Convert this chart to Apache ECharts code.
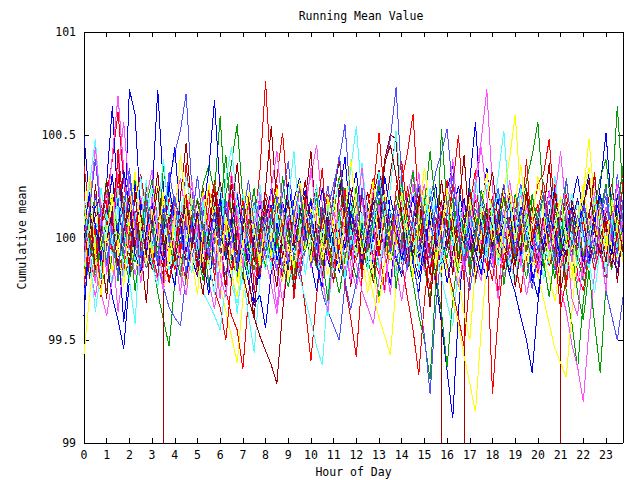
<!DOCTYPE html>
<html>
<head>
<meta charset="utf-8">
<script src="https://cdn.jsdelivr.net/npm/echarts@6/dist/echarts.min.js"></script>
<style>
html, body { margin: 0; background: #fff; }
#chart { width: 640px; height: 480px; }
#chart svg path { shape-rendering: crispEdges; }
</style>
</head>
<body>
<div id="chart"></div>
<script>
// sample times, every 15 minutes
var hours = [0,0.25,0.5,0.75,1,1.25,1.5,1.75,2,2.25,2.5,2.75,3,3.25,3.5,3.75,
	4,4.25,4.5,4.75,5,5.25,5.5,5.75,6,6.25,6.5,6.75,7,7.25,7.5,7.75,
	8,8.25,8.5,8.75,9,9.25,9.5,9.75,10,10.25,10.5,10.75,11,11.25,11.5,11.75,
	12,12.25,12.5,12.75,13,13.25,13.5,13.75,14,14.25,14.5,14.75,15,15.25,15.5,15.75,
	16,16.25,16.5,16.75,17,17.25,17.5,17.75,18,18.25,18.5,18.75,19,19.25,19.5,19.75,
	20,20.25,20.5,20.75,21,21.25,21.5,21.75,22,22.25,22.5,22.75,23,23.25,23.5,23.75];

var s1 = [100.35,100.12,99.94,100.08,100.21,100.38,100.61,100.27,100.05,99.88,100.02,100.15,99.93,99.81,100.04,100.19,
	100.07,99.92,99.78,99.97,100.11,100.24,100.03,99.86,99.95,99.74,99.62,99.55,99.36,99.71,100.06,100.32,
	100.76,100.28,99.98,99.83,100.01,100.14,99.87,99.66,99.40,99.72,99.96,100.09,100.18,99.99,99.77,99.61,
	99.42,99.80,100.05,100.22,100.51,100.19,99.94,100.06,100.27,100.41,100.60,100.13,99.89,99.75,99.98,100.10,
	100.02,100.25,100.50,100.08,99.84,99.97,100.16,99.91,99.79,100.03,100.20,100.04,99.88,99.73,99.95,100.12,
	100.26,100.31,100.48,100.09,99.86,99.99,100.14,99.82,99.74,99.93,100.07,100.21,100.03,99.85,100.10,100.24];
var s2 = [99.82,100.05,100.21,99.96,99.88,100.09,99.79,99.94,100.16,100.28,100.04,99.85,99.91,99.73,99.60,99.47,
	99.78,100.02,100.13,99.97,100.08,100.26,100.35,100.22,100.59,100.14,99.90,99.81,100.00,100.17,99.95,99.84,
	99.98,100.11,100.23,100.06,99.87,99.76,99.93,100.08,100.19,100.03,99.86,99.97,100.12,100.30,100.15,99.92,
	99.80,99.96,100.07,99.89,99.71,99.88,100.04,100.20,100.09,99.93,99.78,99.62,99.50,99.31,99.78,100.53,
	100.14,99.95,99.83,100.06,100.24,100.11,99.90,100.02,100.17,99.98,99.86,100.04,100.21,100.09,100.28,100.40,
	100.56,100.18,99.94,99.80,99.99,99.74,99.58,99.36,99.69,99.92,100.08,100.19,99.97,99.84,100.05,100.16];
var s3 = [100.49,100.18,99.90,100.06,100.27,100.64,100.15,99.98,100.72,100.60,100.11,99.93,100.20,100.72,100.24,99.89,
	99.76,100.01,100.17,100.05,99.84,100.12,100.33,100.67,100.22,99.91,99.79,100.03,100.15,99.94,99.68,99.86,
	100.07,100.24,100.02,99.81,99.95,100.18,100.29,100.06,99.88,99.74,99.97,100.13,100.01,99.83,99.96,100.19,
	100.32,100.08,99.85,100.00,100.16,99.92,99.77,100.03,100.22,100.10,99.87,99.73,99.96,100.14,99.80,99.58,
	99.35,99.12,99.64,99.99,100.28,100.56,100.13,99.90,100.05,100.19,99.96,99.82,99.99,100.15,100.02,99.78,
	99.91,100.08,100.23,100.04,99.86,100.00,100.17,100.30,100.11,99.89,100.06,100.25,100.51,100.14,99.93,100.08];
var s4 = [100.08,99.86,99.71,99.90,100.12,100.40,100.69,100.33,99.97,99.82,99.95,100.11,100.03,99.88,99.74,99.92,
	100.15,100.06,99.91,100.04,100.18,99.97,99.79,99.65,99.88,100.07,100.21,100.01,99.85,99.96,100.13,100.05,
	99.90,99.77,99.63,99.84,100.02,100.14,99.98,100.19,100.30,100.45,100.16,99.94,99.83,100.00,100.09,99.87,
	99.75,99.91,100.06,100.23,100.11,99.95,100.04,99.86,99.69,99.88,100.02,100.14,100.26,100.07,99.93,100.10,
	99.98,99.84,100.00,100.15,100.06,100.29,100.47,100.72,100.24,99.96,99.81,99.92,100.07,99.90,99.72,99.86,
	100.03,100.19,99.97,99.85,100.02,100.13,99.94,99.78,99.91,100.10,100.27,100.05,99.88,99.99,100.16,100.02];
var s5 = [100.02,100.26,100.48,100.11,99.89,99.78,99.96,100.08,100.17,99.99,99.86,100.05,100.13,99.95,100.09,100.22,
	100.04,99.87,99.96,100.10,99.92,99.80,100.01,100.18,100.06,99.90,99.77,99.68,99.81,99.62,99.44,99.79,
	100.00,100.12,99.94,100.07,100.20,100.03,99.88,99.97,100.11,99.96,99.83,100.02,100.16,100.27,100.12,100.33,
	100.54,100.19,99.95,99.86,100.04,100.14,99.99,99.82,99.93,100.08,100.21,100.03,99.90,100.06,100.17,99.98,
	99.84,99.95,100.09,100.01,99.87,100.03,100.15,100.26,100.11,100.30,100.52,100.14,99.97,99.85,100.02,100.12,
	99.96,99.80,99.91,100.08,100.18,100.02,99.89,100.05,100.14,99.97,99.83,99.94,100.09,100.20,100.04,99.90];
// this run has dropouts (reading 0) at 3.5, 15.75, 16.75 and 21 h
var s6 = [99.95,100.10,100.04,99.88,99.97,100.14,100.25,100.09,99.91,100.03,100.18,100.06,99.93,100.02,0,100.11,
	100.20,100.05,99.89,99.96,100.08,99.94,100.01,100.16,100.27,100.12,99.98,99.86,100.00,100.09,99.93,100.04,
	100.19,100.07,99.90,99.81,99.95,100.10,100.23,100.06,99.92,100.04,100.15,99.99,99.87,100.01,100.13,100.24,
	100.08,99.96,100.05,100.20,100.33,100.14,99.97,100.10,99.94,99.85,100.02,100.16,100.07,99.92,100.03,0,
	100.12,100.01,99.88,0,100.06,100.18,100.04,99.91,100.00,100.12,99.95,99.84,99.98,100.09,100.21,100.03,
	99.90,100.05,99.96,100.11,0,100.08,99.93,100.02,100.15,100.04,99.89,99.99,100.12,100.26,100.07,99.94];
var s7 = [99.43,99.72,99.95,100.10,99.98,99.84,100.03,100.19,100.07,99.90,99.81,99.96,100.12,100.25,100.04,99.93,
	100.06,99.89,99.77,99.94,100.11,100.22,100.02,99.85,99.76,99.64,99.52,99.39,99.70,99.92,100.08,99.97,
	100.13,100.02,99.87,99.79,99.96,100.15,100.26,100.05,99.91,100.04,99.93,99.82,99.99,100.17,100.08,99.94,
	100.05,99.91,99.73,99.88,100.10,100.21,99.97,99.86,100.03,100.14,99.95,100.07,100.24,100.09,99.92,99.83,
	99.96,100.11,100.02,99.87,99.94,100.08,100.19,100.03,99.90,100.06,100.23,100.38,100.60,100.20,99.98,99.86,
	100.01,99.92,100.10,100.22,100.04,99.88,99.79,99.97,100.12,99.95,100.06,99.91,99.84,100.00,100.13,100.05];
var s8 = [99.89,100.06,99.93,99.80,99.95,100.10,100.02,100.17,100.30,100.08,99.92,100.04,99.86,99.98,100.15,100.27,
	100.41,100.52,100.70,100.24,99.97,99.85,100.03,100.09,99.94,99.82,99.97,100.12,100.05,99.91,100.06,100.20,
	100.08,99.93,99.84,100.00,100.11,99.98,99.86,99.94,100.07,100.19,100.03,100.14,100.26,100.38,100.55,100.17,
	99.96,99.88,100.05,100.13,100.22,100.35,100.48,100.73,100.29,100.02,99.90,99.71,99.52,99.24,99.66,99.94,
	100.08,99.97,100.12,100.03,99.89,99.78,99.95,100.09,100.16,100.04,99.91,100.02,100.13,100.26,100.07,99.94,
	99.85,99.99,100.11,100.02,99.90,99.81,99.96,100.07,100.18,100.06,99.93,100.04,100.15,100.03,99.87,99.98];
var s9 = [100.14,99.91,99.78,100.01,100.23,100.09,99.93,99.82,100.04,100.18,100.31,100.12,99.95,100.07,100.20,99.99,
	99.84,99.96,100.11,100.03,99.90,100.02,99.87,99.74,99.66,99.50,99.79,100.04,100.16,100.02,99.89,100.06,
	100.22,100.13,100.29,100.51,100.17,99.94,99.83,100.00,100.12,100.25,100.08,99.95,99.86,100.03,100.14,99.98,
	100.09,100.20,100.04,99.91,99.82,99.97,100.13,100.02,99.88,99.71,99.55,99.33,99.69,99.96,100.10,100.00,
	99.87,99.74,99.61,99.47,99.80,100.02,100.15,99.96,99.24,99.62,99.91,100.08,100.19,100.05,99.93,100.07,
	100.16,99.99,99.86,99.95,100.10,100.21,100.06,99.92,99.83,100.01,100.14,100.02,99.88,100.06,100.19,100.31];
var s10 = [99.97,100.13,100.02,99.86,99.74,99.92,100.07,100.20,100.01,99.88,100.05,100.16,100.28,100.09,99.94,100.03,
	99.90,100.08,100.19,100.06,99.93,99.79,99.95,100.12,100.04,100.21,100.36,100.55,100.18,99.96,99.84,100.02,
	99.93,100.10,100.00,99.87,99.76,99.91,100.06,100.17,99.98,99.85,99.94,100.08,99.96,100.11,100.24,100.05,
	99.93,100.07,99.89,99.78,99.95,100.09,99.98,100.14,100.26,100.06,99.91,100.02,100.13,99.97,99.82,99.64,
	99.37,99.70,99.92,100.06,99.95,99.86,100.03,100.14,100.01,99.89,100.08,100.20,100.05,99.92,99.80,99.98,
	100.09,100.19,100.03,99.88,99.97,100.12,99.94,99.73,99.60,99.84,99.58,99.34,99.77,100.18,100.64,100.21];
var s11 = [99.76,99.98,100.16,100.04,99.88,99.71,99.60,99.46,99.79,100.05,100.19,99.94,99.85,100.01,100.13,100.25,
	100.08,99.93,100.06,99.90,99.81,99.97,100.10,100.02,100.15,99.99,99.87,100.04,99.92,99.78,99.67,99.72,
	99.56,99.83,100.04,100.17,100.06,99.94,100.11,100.23,100.09,99.96,100.02,99.89,99.80,99.95,100.07,100.18,
	100.02,99.87,99.98,100.12,100.24,100.06,99.93,100.05,99.96,100.19,100.08,99.90,100.04,100.15,99.98,99.86,
	100.01,100.12,100.25,100.09,99.94,100.06,99.89,99.80,99.97,100.11,99.95,99.82,99.73,99.61,99.50,99.34,
	99.68,99.93,100.07,100.14,100.03,99.91,100.08,100.19,100.02,99.88,99.99,100.12,100.04,99.92,99.83,100.01];
var s12 = [100.21,99.97,99.84,99.73,99.62,99.80,99.96,100.09,99.94,100.07,100.20,100.04,99.91,99.79,99.95,100.08,
	100.17,100.29,100.10,99.96,100.05,100.16,99.99,99.88,100.02,99.93,100.09,100.22,100.06,99.90,99.81,99.97,
	100.10,99.98,99.85,99.69,99.88,100.02,99.91,100.05,100.18,100.06,99.93,100.01,100.13,99.97,99.84,99.95,
	99.87,99.74,99.66,99.58,99.80,100.00,100.11,99.96,100.07,100.20,100.33,100.12,99.94,99.85,100.03,100.15,
	100.06,99.92,100.04,100.17,100.02,99.88,99.79,99.97,100.10,100.01,99.87,99.96,100.08,100.22,100.05,99.91,
	99.82,99.95,100.06,99.89,99.75,99.64,99.48,99.37,99.20,99.55,99.83,100.04,100.15,100.03,99.92,100.08];
var s13 = [99.93,99.80,100.03,100.17,100.05,99.91,100.06,100.19,100.02,99.89,99.97,100.11,100.24,100.08,99.95,99.84,
	99.98,100.13,100.01,99.92,99.85,99.73,99.68,99.62,99.55,99.78,99.99,100.10,100.21,100.04,99.93,100.06,
	100.15,100.02,99.88,99.97,100.09,99.95,99.81,99.70,99.59,99.47,99.38,99.74,99.96,100.08,99.99,100.16,
	100.05,99.94,100.07,100.18,100.03,99.90,99.98,100.12,100.01,99.86,99.95,100.09,100.20,100.06,99.93,99.80,
	99.68,99.57,99.86,100.02,100.14,100.03,99.91,100.05,100.18,100.07,99.94,99.86,99.99,100.11,100.02,99.90,
	100.06,100.17,99.98,99.87,99.96,100.09,100.21,100.04,99.93,99.85,99.97,100.10,99.98,99.89,100.06,100.12];
var s14 = [100.06,99.92,100.11,100.23,100.09,99.95,99.87,100.02,100.14,100.04,99.90,99.99,100.10,99.96,99.85,100.01,
	100.12,100.05,99.93,100.07,100.18,100.02,99.89,99.98,100.08,99.94,100.03,99.91,99.82,99.70,99.61,99.52,
	99.45,99.38,99.29,99.64,99.90,100.04,100.15,100.01,99.93,100.06,99.97,100.10,100.02,99.89,100.00,100.13,
	99.98,100.09,100.22,100.06,99.94,100.12,100.31,100.50,100.20,100.03,99.92,100.05,99.97,100.10,100.01,99.88,
	99.95,100.07,99.99,100.11,100.04,99.92,100.06,100.16,100.03,99.90,99.98,100.10,100.01,99.93,100.05,100.15,
	100.04,99.91,100.02,99.94,100.07,100.17,100.05,99.95,100.02,100.12,100.03,99.90,99.97,100.09,100.00,99.93];
var s15 = [100.19,100.05,99.88,99.97,100.10,100.22,100.03,99.91,99.84,99.97,100.09,100.02,99.90,100.06,100.17,100.04,
	99.93,100.01,100.14,100.26,100.08,99.95,99.86,100.00,100.12,100.03,99.92,100.05,100.16,100.27,100.09,99.96,
	99.87,100.01,100.11,100.03,99.94,99.85,100.00,100.12,100.04,99.91,100.06,100.18,100.07,99.96,99.88,100.02,
	100.13,99.99,99.84,99.72,99.61,99.52,99.43,99.76,99.98,100.10,100.01,99.92,100.03,100.15,100.06,99.94,
	99.85,99.70,99.58,99.42,99.29,99.15,99.55,99.88,100.05,99.97,100.09,99.99,99.86,99.95,100.07,99.93,
	99.81,99.70,99.58,99.46,99.39,99.32,99.64,99.95,100.21,100.48,100.17,99.98,100.08,99.96,99.90,100.03];
var s16 = [99.72,99.90,100.07,99.95,100.08,100.20,100.04,99.92,100.01,100.13,99.96,99.85,99.98,99.87,99.76,99.66,
	99.61,99.57,99.82,100.00,100.12,100.03,99.91,100.06,100.18,100.07,99.95,100.04,99.92,100.05,100.17,100.09,
	99.96,99.86,100.01,100.14,100.02,99.91,99.80,99.94,100.07,99.89,99.73,99.64,99.57,99.50,99.77,100.00,
	100.11,100.03,99.93,100.06,100.19,100.08,99.96,99.88,100.00,100.12,100.04,99.93,100.07,100.18,100.32,100.41,
	100.53,100.22,99.99,99.87,100.02,100.14,100.06,99.94,99.85,100.00,100.11,100.03,99.92,100.07,100.19,100.05,
	99.94,100.06,99.97,99.84,99.96,100.09,100.02,99.89,99.81,99.93,100.08,99.97,99.74,99.62,99.50,99.71];
var s17 = [100.22,99.87,100.05,99.71,100.18,99.93,100.31,100.02,99.80,100.13,99.96,100.27,99.84,100.09,99.75,100.04,
	100.19,99.90,100.36,100.07,99.82,99.98,100.24,99.79,100.11,99.92,100.30,100.05,99.86,100.17,99.73,99.99,
	100.14,99.88,100.26,99.95,100.08,99.70,99.97,100.21,99.85,100.10,100.34,99.94,99.78,100.06,100.23,99.91,
	100.03,99.81,100.16,100.29,99.96,99.74,100.12,100.01,99.89,100.25,100.07,99.83,100.19,99.95,99.77,100.08,
	100.28,99.92,100.04,99.79,100.15,100.33,99.98,99.86,100.10,99.72,100.02,100.20,99.90,100.07,100.38,99.97,
	99.83,100.12,99.94,100.26,100.06,99.76,100.01,100.18,99.88,100.09,100.32,99.95,99.81,100.14,99.99,100.27];
var s18 = [99.91,100.14,99.79,100.06,100.29,99.96,99.83,100.10,100.02,99.74,99.97,100.21,100.08,99.89,100.35,100.12,
	99.94,99.81,100.05,100.17,99.88,100.03,99.76,99.99,100.13,100.40,100.09,99.92,99.80,100.07,100.24,99.98,
	99.85,100.11,99.95,100.30,100.04,99.78,100.16,99.93,100.06,100.22,99.90,99.69,100.01,100.14,99.87,100.09,
	100.25,99.97,99.84,100.05,100.18,99.92,100.08,99.75,99.98,100.12,100.32,100.03,99.86,99.70,99.94,100.11,
	100.02,100.19,99.91,100.07,99.82,99.99,100.23,100.10,99.88,100.04,99.77,99.96,100.15,100.06,99.93,100.20,
	100.08,99.85,100.01,100.17,99.94,100.29,100.05,99.90,99.79,100.03,99.92,100.13,100.26,99.98,100.09,100.35];
var s19 = [99.62,100.03,100.20,99.88,100.09,100.31,99.97,99.59,99.84,100.26,100.05,99.91,100.17,99.86,100.02,100.24,
	100.44,100.08,99.81,99.97,100.13,99.90,99.72,100.06,100.19,99.95,100.09,99.83,100.01,100.22,99.94,99.80,
	100.05,100.16,99.89,99.99,100.27,100.08,99.92,100.03,100.18,99.87,99.76,100.10,99.96,100.21,100.39,100.07,
	99.93,100.04,100.16,99.85,99.98,100.30,100.12,99.90,99.81,100.06,100.20,100.01,99.87,100.13,100.26,99.96,
	99.78,99.93,100.07,100.19,99.99,99.84,100.11,100.34,100.06,99.92,100.04,100.17,99.88,99.97,100.09,99.82,
	99.71,99.95,100.12,100.24,99.98,100.07,99.89,100.02,100.16,100.31,100.05,99.91,100.08,99.86,100.21,100.03];
var s20 = [100.15,99.93,99.78,100.09,100.22,99.96,99.64,99.87,100.11,100.01,99.86,100.19,100.33,100.05,99.90,99.99,
	100.12,99.84,99.72,99.95,100.07,100.20,99.91,100.03,99.82,99.71,99.98,100.14,99.93,99.80,100.06,100.18,
	100.04,99.89,99.66,99.92,100.10,99.97,100.25,100.08,99.85,100.00,99.79,99.94,100.13,100.06,99.90,99.81,
	100.02,100.19,99.95,100.08,99.86,99.73,99.97,100.11,99.92,100.04,100.26,99.99,99.83,100.07,99.94,100.16,
	100.05,99.88,99.76,99.93,100.09,100.21,99.96,100.10,99.87,100.02,100.14,99.90,99.78,99.95,100.12,100.03,
	99.89,100.06,100.23,99.97,99.84,100.01,99.70,99.62,99.91,100.08,99.95,100.17,100.04,99.86,99.98,100.11];
var s21 = [99.86,100.10,99.97,100.24,100.06,99.92,100.15,99.81,99.96,100.08,100.30,100.02,99.87,99.76,99.99,100.13,
	100.01,100.20,99.93,99.83,100.05,100.17,99.98,100.11,100.25,100.04,99.86,99.63,99.90,100.03,100.16,99.95,
	99.84,100.07,100.21,99.99,99.88,99.75,100.02,100.14,100.05,99.91,99.80,99.62,99.93,100.09,100.18,99.96,
	100.07,100.36,100.10,99.94,99.85,100.02,100.13,99.97,99.88,99.96,100.11,100.23,100.04,99.90,100.08,99.86,
	99.97,100.12,100.03,99.91,100.19,100.06,99.84,99.95,100.07,100.22,100.00,99.89,99.78,100.04,100.15,99.93,
	100.09,99.98,99.87,100.03,100.20,99.94,100.06,100.17,99.99,99.88,99.73,99.96,100.10,100.02,99.91,100.14];
var s22 = [100.08,99.80,100.26,99.96,99.70,100.12,100.38,100.04,99.86,100.22,99.94,99.68,100.10,100.32,100.00,99.78,
	99.92,100.20,100.46,100.14,99.88,99.72,100.04,100.28,99.98,99.76,100.12,100.36,100.06,99.82,99.60,100.02,
	100.24,100.54,100.16,99.90,100.08,99.74,99.94,100.18,100.42,100.04,99.80,100.10,99.86,100.26,100.08,99.76,
	99.96,100.22,100.04,99.78,100.12,100.38,100.50,100.48,100.10,99.84,99.98,100.20,99.92,99.66,100.00,100.28,
	100.06,99.82,100.14,100.40,100.02,99.80,99.94,100.16,100.32,100.08,99.84,100.06,99.76,99.94,100.24,100.04,
	99.86,100.12,100.36,100.00,99.74,99.90,100.18,100.06,99.82,100.10,100.30,100.02,99.88,100.14,99.78,100.04];
var s23 = [99.80,100.06,100.18,99.94,100.02,99.83,99.95,100.13,100.24,99.99,99.86,100.08,99.92,100.03,99.75,99.90,
	100.11,100.04,99.93,100.19,100.07,99.88,99.97,100.15,99.95,100.09,99.82,99.71,99.96,100.12,100.01,99.89,
	100.05,99.92,100.17,100.08,99.97,99.85,100.03,99.94,100.14,100.06,99.89,100.01,100.20,99.98,99.87,100.04,
	99.93,100.10,99.99,99.81,99.68,99.88,100.07,99.96,100.12,100.03,99.91,100.00,100.18,99.97,99.86,100.05,
	100.16,99.94,99.79,99.63,99.50,99.86,100.02,100.11,99.98,100.07,99.92,100.05,100.17,100.35,100.09,99.95,
	100.04,99.90,99.81,99.69,99.88,100.03,99.94,100.10,100.21,100.34,100.06,99.93,100.01,99.87,100.08,99.97];
var s24 = [100.10,99.94,100.21,100.03,99.88,100.07,100.19,99.96,100.28,100.09,99.91,100.02,100.14,99.87,100.05,100.32,
	100.16,99.97,100.08,99.90,100.01,100.13,99.95,99.84,100.03,100.15,99.99,99.88,100.10,99.97,100.06,99.85,
	99.93,100.12,100.02,100.21,100.37,100.09,99.94,100.05,99.86,99.95,100.10,100.25,100.04,99.89,99.79,99.65,
	99.78,99.97,100.11,99.98,100.06,100.18,100.02,99.91,99.83,99.98,100.10,99.94,100.08,100.20,100.02,99.90,
	99.97,100.12,100.04,99.88,99.74,99.93,100.06,99.97,100.12,100.24,100.05,99.90,99.98,100.08,99.89,99.75,
	99.92,100.07,100.18,100.02,99.91,100.05,99.96,100.11,100.03,99.87,99.95,100.09,100.20,99.98,100.31,100.08];
var s25 = [99.77,100.02,99.89,100.16,100.07,99.93,100.43,100.13,99.95,100.06,99.83,99.97,100.12,100.01,99.88,99.79,
	99.95,100.09,100.21,100.03,99.90,99.98,100.14,100.27,100.08,99.96,99.84,100.01,100.18,100.05,99.93,99.82,
	100.03,100.15,99.97,100.07,99.89,99.79,99.96,100.10,100.02,99.90,100.08,100.21,100.05,99.94,100.17,100.04,
	99.89,100.01,100.14,100.03,99.91,100.09,99.95,100.23,100.37,100.12,99.98,100.06,99.93,99.84,100.02,100.13,
	100.05,100.26,100.08,99.96,99.87,100.04,99.92,100.07,100.20,99.99,99.86,99.96,100.11,100.03,99.89,100.00,
	100.13,100.27,100.06,99.92,99.65,99.80,100.02,99.94,100.08,99.97,99.84,99.96,100.10,100.01,99.92,100.06];
var s26 = [100.12,99.98,99.85,99.96,100.09,100.20,100.01,99.90,99.79,99.94,100.05,100.18,100.04,99.92,100.11,99.98,
	99.86,100.03,99.93,100.07,100.19,100.05,99.96,100.12,100.04,99.91,100.03,100.16,99.94,99.83,99.96,100.10,
	100.02,99.90,100.04,100.15,99.97,100.09,100.24,100.06,99.92,100.01,100.13,99.99,99.86,99.73,99.90,100.05,
	100.17,100.03,99.94,100.08,100.26,100.06,99.88,99.99,100.11,100.00,99.89,100.04,100.16,100.42,100.15,99.98,
	99.90,100.06,100.18,99.99,99.87,100.02,100.12,100.04,99.93,100.07,100.19,100.02,99.90,99.97,100.08,100.21,
	100.05,99.88,99.71,99.92,100.06,99.97,100.10,100.03,99.91,100.02,100.15,100.29,100.38,100.12,99.96,100.05];
var s27 = [100.05,100.22,100.06,99.90,99.99,100.13,100.02,100.33,100.15,99.92,99.83,100.04,100.17,100.00,99.88,100.07,
	100.20,100.04,99.93,100.08,99.95,99.83,100.01,100.12,100.03,99.89,100.06,100.21,100.02,99.88,99.99,100.16,
	100.05,99.92,100.07,99.96,99.84,100.02,100.15,100.03,99.90,100.10,100.24,100.04,99.92,100.06,99.95,100.12,
	100.03,99.91,100.02,100.17,100.07,99.94,100.20,100.06,99.89,100.03,99.91,99.80,99.97,100.08,99.95,100.10,
	100.23,100.35,100.12,99.97,100.06,99.94,99.82,100.01,100.13,99.98,100.07,100.22,100.04,99.91,100.05,99.94,
	100.08,99.96,100.10,100.03,99.90,100.04,100.15,100.02,99.88,99.97,100.09,100.21,100.05,99.93,100.16,100.02];
var s28 = [99.88,100.16,100.44,100.14,99.82,100.04,100.32,100.56,100.22,100.04,99.78,99.96,100.20,100.02,99.74,100.10,
	99.94,99.72,100.06,100.28,100.04,99.84,100.12,99.94,99.70,100.08,100.32,100.10,99.86,100.16,99.90,100.22,
	99.96,100.24,100.42,100.14,99.88,100.06,99.84,100.12,100.34,100.08,99.80,99.64,99.94,100.18,100.02,99.78,
	100.10,100.34,100.04,99.88,100.16,99.92,99.72,100.02,100.18,99.94,100.06,100.32,100.04,99.82,100.08,99.90,
	100.14,100.38,100.08,99.84,99.98,100.24,100.44,100.20,99.90,99.70,100.00,100.28,100.10,99.86,100.16,100.02,
	99.84,100.08,99.94,100.20,100.42,100.12,99.88,100.06,99.80,100.02,100.22,99.94,99.74,100.08,100.26,99.98];
var s29 = [100.18,99.92,99.64,99.84,100.12,99.96,100.24,100.06,99.80,99.58,100.04,100.28,99.94,100.12,100.38,100.10,
	99.86,100.04,100.30,100.14,99.92,100.18,99.88,99.72,100.02,100.28,100.44,100.16,99.94,99.80,100.08,100.26,
	100.04,99.84,100.12,99.94,100.18,100.42,100.06,99.82,100.00,100.26,99.98,100.16,99.88,100.08,99.80,100.04,
	99.90,100.12,99.84,100.06,100.32,100.10,100.24,100.52,100.20,99.92,100.08,99.84,100.02,100.24,100.06,99.88,
	100.14,99.96,100.20,99.92,100.04,100.28,100.12,99.90,100.14,99.86,100.04,100.18,99.98,100.24,100.06,99.88,
	100.12,99.90,100.08,100.30,100.06,99.82,100.02,99.86,100.14,99.96,100.20,100.04,99.82,100.10,99.94,100.16];
var s30 = [99.94,100.12,99.84,100.04,100.28,100.08,99.86,100.02,100.20,99.96,100.12,99.90,100.06,100.24,99.94,100.10,
	99.88,100.06,100.18,99.94,100.12,99.82,100.04,100.22,99.98,100.08,100.26,99.92,100.06,100.20,99.88,100.04,
	100.16,99.92,99.76,100.02,100.18,99.96,100.10,100.28,100.02,99.86,100.12,100.02,100.20,100.38,100.10,99.92,
	100.08,99.84,100.00,100.20,100.04,100.36,100.45,100.30,100.10,99.90,100.08,100.24,100.00,99.82,100.06,100.18,
	99.96,100.10,99.88,100.04,100.22,100.06,99.90,100.12,99.94,100.08,100.26,100.02,99.86,100.04,100.20,99.98,
	100.10,99.92,100.06,100.22,100.00,99.88,100.10,99.96,100.14,100.28,100.04,99.92,100.08,99.86,100.02,100.16];
var s31 = [100.06,100.30,99.92,99.72,100.02,100.20,99.94,99.76,100.10,100.32,100.04,99.86,100.14,99.96,100.22,99.88,
	100.08,100.40,100.14,99.90,99.72,100.04,100.26,100.06,99.84,100.10,100.00,99.78,99.98,100.22,100.04,99.86,
	100.12,99.90,100.24,99.98,99.80,100.06,100.28,100.10,99.88,100.16,99.94,100.20,100.04,99.84,100.10,100.38,
	100.14,99.92,100.08,100.28,99.96,100.12,99.88,100.06,100.22,100.04,99.80,100.10,100.34,100.12,99.90,100.04,
	100.24,100.06,99.84,100.02,100.18,99.96,100.12,100.32,100.08,99.90,100.06,100.24,99.98,100.12,99.86,100.08,
	100.30,100.12,99.88,100.04,100.20,100.00,99.82,100.08,100.26,100.06,99.90,100.14,99.94,100.18,100.04,99.88];
var s32 = [99.96,100.14,100.38,100.10,99.86,100.04,99.80,100.12,100.34,100.08,99.84,100.18,100.04,99.88,100.16,99.98,
	100.20,100.04,99.82,100.08,100.30,100.06,99.90,100.14,99.96,100.18,100.02,99.84,100.10,100.28,100.06,99.92,
	100.12,99.94,100.20,100.04,99.86,100.10,100.24,99.98,100.12,99.90,100.16,100.00,100.22,100.40,100.16,99.94,
	100.06,100.24,99.96,100.12,100.28,100.08,99.92,100.16,100.00,99.84,100.10,100.26,100.04,99.90,100.16,99.96,
	100.12,100.30,100.04,99.88,100.14,99.98,100.20,100.06,99.90,100.12,100.26,100.04,99.92,100.14,100.00,99.88,
	100.10,100.22,100.02,99.90,100.12,100.28,100.06,99.94,100.16,100.04,99.88,100.10,100.24,100.02,99.92,100.18];

var yTicks = [99, 99.5, 100, 100.5, 101];
var colors = ['#ff0000', '#00a000', '#0000ff', '#ff50ff', '#50ffff', '#a00000', '#ffff00', '#5050ff'];
var runs = [s1, s2, s3, s4, s5, s6, s7, s8, s9, s10, s11, s12, s13, s14, s15, s16,
	s17, s18, s19, s20, s21, s22, s23, s24, s25, s26, s27, s28, s29, s30, s31, s32];

var font = 'DejaVu Sans Mono';
var txt = {color: '#000', fontFamily: font, fontSize: 11.5};

// a dropout reading is drawn as a straight drop at its own time
function toPoints(vals) {
	var pts = [];
	vals.forEach(function(v, i) {
		if (v < 99 && i > 0 && i < vals.length - 1) {
			pts.push([hours[i], vals[i - 1]], [hours[i], v], [hours[i], vals[i + 1]]);
		} else {
			pts.push([hours[i], v]);
		}
	});
	return pts;
}

var series = runs.map(function(vals, k) {
	return {
		type: 'line',
		data: toPoints(vals),
		symbol: 'none',
		clip: true,
		silent: true,
		animation: false,
		lineStyle: {width: 1, color: colors[k % colors.length]},
		itemStyle: {color: colors[k % colors.length]}
	};
});

var line = {show: true, onZero: false, lineStyle: {color: '#000', width: 1}};
var tick = {show: true, inside: true, length: 5, lineStyle: {color: '#000', width: 1}};

var chart = echarts.init(document.getElementById('chart'), null, {renderer: 'svg'});
chart.setOption({
	animation: false,
	backgroundColor: '#fff',
	title: {
		text: 'Running Mean Value',
		left: 356,
		textAlign: 'center',
		top: 5,
		textStyle: {color: '#000', fontFamily: font, fontSize: 11.5, fontWeight: 'normal'}
	},
	grid: {left: 84, right: 17, top: 32, bottom: 37, outerBoundsMode: 'none'},
	xAxis: [{
		type: 'value',
		position: 'bottom',
		min: 0,
		max: hours[hours.length - 1],
		interval: 1,
		axisLine: line,
		axisTick: tick,
		splitLine: {show: false},
		axisLabel: Object.assign({margin: 6, formatter: function(v) { return v % 1 === 0 ? String(v) : ''; }}, txt),
		name: 'Hour of Day',
		nameLocation: 'middle',
		nameGap: 23,
		nameTextStyle: txt
	}, {
		type: 'value',
		position: 'top',
		min: 0,
		max: hours[hours.length - 1],
		interval: 1,
		axisLine: line,
		axisTick: tick,
		splitLine: {show: false},
		axisLabel: {show: false}
	}],
	yAxis: [{
		type: 'value',
		position: 'left',
		min: yTicks[0],
		max: yTicks[yTicks.length - 1],
		interval: 0.5,
		axisLine: line,
		axisTick: tick,
		splitLine: {show: false},
		axisLabel: Object.assign({margin: 8}, txt),
		name: 'Cumulative mean',
		nameLocation: 'middle',
		nameGap: 56,
		nameTextStyle: txt
	}, {
		type: 'value',
		position: 'right',
		min: yTicks[0],
		max: yTicks[yTicks.length - 1],
		interval: 0.5,
		axisLine: line,
		axisTick: tick,
		splitLine: {show: false},
		axisLabel: {show: false}
	}],
	series: series
});
</script>
</body>
</html>
